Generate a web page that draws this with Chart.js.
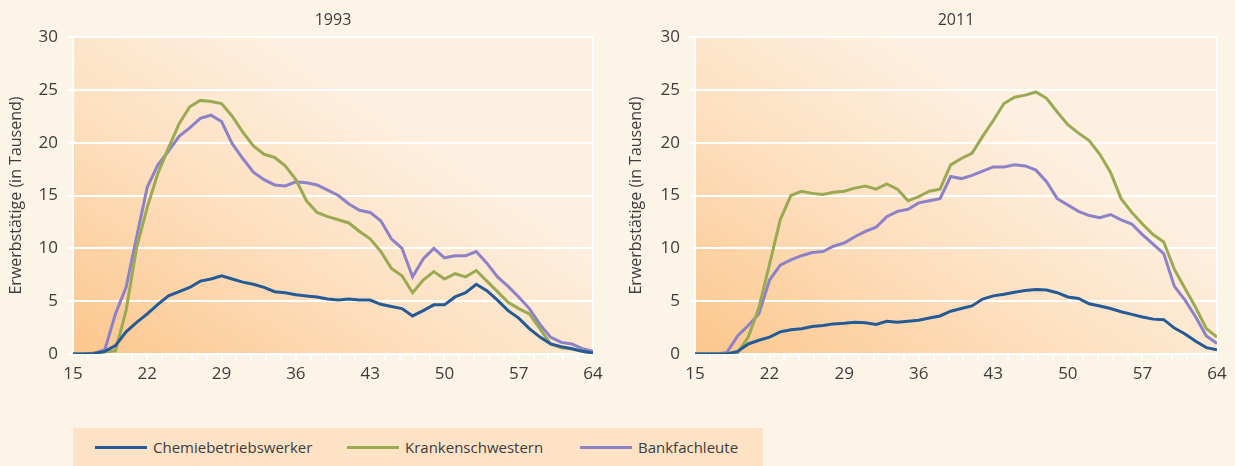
<!DOCTYPE html>
<html>
<head>
<meta charset="utf-8">
<script src="https://cdn.jsdelivr.net/npm/chart.js@4/dist/chart.umd.min.js"></script>
<style>
  html, body { margin: 0; padding: 0; background: #fdf4e8; }
  body { width: 1235px; height: 466px; position: relative; overflow: hidden; font-family: "Open Sans", sans-serif; }
  .box { position: absolute; top: 0; width: 615px; height: 400px; }
  #legend { position: absolute; left: 73px; top: 428px; width: 690px; height: 38px; background: #fde2c5; }
  .item { position: absolute; top: 0; height: 38px; line-height: 38px; font-size: 15px; color: #3c3c3c; white-space: nowrap; }
  .swatch { position: absolute; top: 18px; height: 3px; width: 52px; }
</style>
</head>
<body>
<div class="box" style="left:0"><canvas id="c1"></canvas></div>
<div class="box" style="left:620px"><canvas id="c2"></canvas></div>
<div id="legend"></div>
<script>
const ages = [15,16,17,18,19,20,21,22,23,24,25,26,27,28,29,30,31,32,33,34,35,36,37,38,39,40,41,42,43,44,45,46,47,48,49,50,51,52,53,54,55,56,57,58,59,60,61,62,63,64];
const xTickLabels = [15,22,29,36,43,50,57,64];
const yTicks = [0,5,10,15,20,25,30];
const seriesNames = ["Chemiebetriebswerker","Krankenschwestern","Bankfachleute"];
const titles = ["1993","2011"];
const yTitle = "Erwerbstätige (in Tausend)";

// 1993
const chemie1993 = [0,0,0.05,0.25,0.8,2.1,3.0,3.8,4.7,5.5,5.9,6.3,6.9,7.1,7.4,7.1,6.8,6.6,6.3,5.9,5.8,5.6,5.5,5.4,5.2,5.1,5.2,5.1,5.1,4.7,4.5,4.3,3.6,4.1,4.65,4.65,5.4,5.8,6.6,6.0,5.1,4.1,3.4,2.4,1.6,0.95,0.7,0.5,0.25,0.1];
const kranken1993 = [0,0,0.1,0.2,0.3,4.1,10.1,13.9,17.1,19.5,21.8,23.4,24.0,23.9,23.7,22.5,21.0,19.7,18.9,18.6,17.8,16.5,14.5,13.4,13.0,12.7,12.4,11.6,10.9,9.7,8.1,7.4,5.8,7.0,7.8,7.1,7.6,7.3,7.9,6.9,5.9,4.9,4.3,3.8,2.4,0.95,0.6,0.5,0.25,0.1];
const bank1993 = [0,0,0.05,0.4,3.8,6.3,11.1,15.8,17.9,19.2,20.6,21.4,22.3,22.6,22.0,19.9,18.5,17.2,16.5,16.0,15.9,16.3,16.2,16.0,15.5,15.0,14.2,13.6,13.4,12.6,10.9,10.0,7.3,9.0,10.0,9.1,9.3,9.3,9.7,8.6,7.3,6.4,5.4,4.3,2.8,1.6,1.1,0.95,0.5,0.25];

// 2011
const chemie2011 = [0,0,0,0,0.25,0.95,1.3,1.6,2.1,2.3,2.4,2.6,2.7,2.85,2.9,3.0,2.95,2.8,3.1,3.0,3.1,3.2,3.4,3.6,4.05,4.3,4.55,5.2,5.5,5.65,5.85,6.0,6.1,6.05,5.8,5.4,5.25,4.75,4.55,4.3,4.0,3.75,3.5,3.3,3.25,2.45,1.9,1.2,0.6,0.4];
const kranken2011 = [0,0,0,0,0.1,1.6,4.4,8.5,12.7,15.0,15.4,15.2,15.1,15.3,15.4,15.7,15.9,15.6,16.1,15.6,14.5,14.9,15.4,15.6,17.9,18.5,19.0,20.6,22.1,23.7,24.3,24.5,24.8,24.2,22.9,21.7,20.9,20.2,18.9,17.2,14.7,13.4,12.3,11.3,10.6,8.0,6.2,4.4,2.4,1.6];
const bank2011 = [0,0,0,0.15,1.7,2.7,3.8,7.0,8.4,8.9,9.3,9.6,9.7,10.2,10.5,11.1,11.6,12.0,13.0,13.5,13.7,14.3,14.5,14.7,16.8,16.6,16.9,17.3,17.7,17.7,17.9,17.8,17.4,16.3,14.7,14.1,13.5,13.1,12.9,13.2,12.7,12.3,11.3,10.4,9.5,6.4,5.1,3.5,1.7,1.0];

const colors = ["#245a96", "#9aaa52", "#8d81c8"];
const FONT = "'Open Sans', sans-serif";
const TXT = "#3c3c3c";

function pts(vals) { return ages.map((a, i) => ({ x: a, y: vals[i] })); }

const bgPlugin = {
  id: 'plotBg',
  beforeDraw(chart) {
    const { ctx, chartArea: a } = chart;
    const g = ctx.createLinearGradient(a.left, a.bottom, a.left + (a.right - a.left) * 0.4, a.top);
    g.addColorStop(0, '#fcc68c');
    g.addColorStop(0.55, '#fde0c0');
    g.addColorStop(1, '#fdf0e1');
    ctx.save();
    ctx.fillStyle = g;
    ctx.fillRect(a.left, a.top, a.right - a.left, a.bottom - a.top);
    ctx.restore();
  }
};

const titlePlugin = {
  id: 'areaTitle',
  afterDraw(chart, args, opts) {
    const { ctx, chartArea: a } = chart;
    ctx.save();
    ctx.fillStyle = TXT;
    ctx.font = "16px " + FONT;
    ctx.textAlign = 'center';
    ctx.textBaseline = 'middle';
    ctx.fillText(opts.text, (a.left + a.right) / 2, 20);
    ctx.restore();
  }
};

function makeChart(id, title, series, yWidth, padRight) {
  return new Chart(document.getElementById(id), {
    type: 'line',
    data: {
      datasets: series.map((s, i) => ({
        label: seriesNames[i],
        data: pts(s),
        borderColor: colors[i],
        backgroundColor: colors[i],
        borderWidth: 3,
        pointRadius: 0,
        tension: 0,
        fill: false
      }))
    },
    options: {
      responsive: true,
      maintainAspectRatio: false,
      animation: false,
      layout: { padding: { top: 37, right: padRight, bottom: 0, left: 0 } },
      plugins: {
        legend: { display: false },
        tooltip: { enabled: false },
        title: { display: false },
        areaTitle: { text: title }
      },
      scales: {
        x: {
          type: 'linear', min: 15, max: 64,
          afterFit(s) { s.height = 46; },
          afterBuildTicks(s) {
            const t = [];
            for (let k = 0; k <= 35; k++) t.push({ value: 15 + k * 1.4 });
            s.ticks = t;
          },
          ticks: {
            autoSkip: false, maxRotation: 0, padding: 4, color: TXT,
            font: { family: FONT, size: 17 },
            callback(v) {
              const r = Math.round(v);
              return (Math.abs(v - r) < 1e-6 && xTickLabels.includes(r)) ? String(r) : '';
            }
          },
          grid: {
            drawOnChartArea: true,
            color: c => (c.tick && Math.abs(c.tick.value - 64) < 1e-6) ? '#ffffff' : 'rgba(0,0,0,0)',
            tickColor: '#ffffff',
            lineWidth: 2,
            tickLength: 6
          },
          border: { display: true, color: '#ffffff', width: 2 }
        },
        y: {
          min: 0, max: 30,
          afterFit(s) { s.width = yWidth; },
          afterBuildTicks(s) { s.ticks = yTicks.map(v => ({ value: v })); },
          ticks: { color: TXT, font: { family: FONT, size: 17 }, padding: 9 },
          grid: { color: '#ffffff', lineWidth: 2, tickColor: '#ffffff', tickLength: 6 },
          border: { display: true, color: '#ffffff', width: 2 },
          title: {
            display: true, text: yTitle, color: TXT,
            font: { family: FONT, size: 16 },
            padding: { top: 7, bottom: 0 }
          }
        }
      }
    },
    plugins: [bgPlugin, titlePlugin]
  });
}

makeChart('c1', titles[0], [chemie1993, kranken1993, bank1993], 73, 22);
makeChart('c2', titles[1], [chemie2011, kranken2011, bank2011], 75, 18);

// legend
const legend = document.getElementById('legend');
const legendPos = [22, 274, 507];
seriesNames.forEach((n, i) => {
  const it = document.createElement('div');
  it.className = 'item';
  it.style.left = legendPos[i] + 'px';
  it.innerHTML = '<span class="swatch" style="left:0;background:' + colors[i] + '"></span><span style="margin-left:58px">' + n + '</span>';
  legend.appendChild(it);
});
</script>
</body>
</html>
